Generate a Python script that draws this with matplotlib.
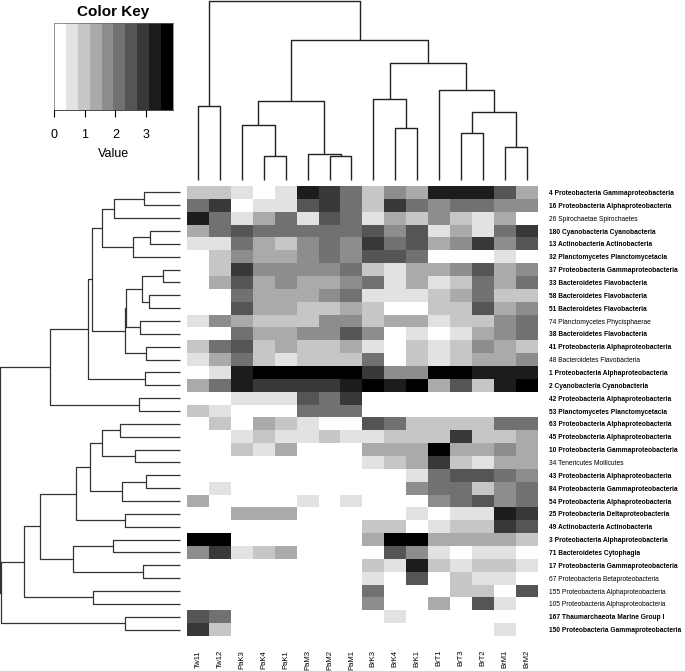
import matplotlib
matplotlib.use("Agg")
import matplotlib.pyplot as plt
import numpy as np
from matplotlib.colors import ListedColormap, BoundaryNorm

plt.rcParams["font.family"] = ["Liberation Sans", "DejaVu Sans"]

# %% Data
samples = ["Tw11", "Tw12", "PaK3", "PaK4", "PaK1", "PaM3", "PaM2", "PaM1",
           "BrK3", "BrK4", "BrK1", "BrT1", "BrT3", "BrT2", "BrM1", "BrM2"]

taxa = [
    "4 Proteobacteria Gammaproteobacteria",
    "16 Proteobacteria Alphaproteobacteria",
    "26 Spirochaetae Spirochaetes",
    "180 Cyanobacteria Cyanobacteria",
    "13 Actinobacteria Actinobacteria",
    "32 Planctomycetes Planctomycetacia",
    "37 Proteobacteria Gammaproteobacteria",
    "33 Bacteroidetes Flavobacteria",
    "58 Bacteroidetes Flavobacteria",
    "51 Bacteroidetes Flavobacteria",
    "74 Planctomycetes Phycisphaerae",
    "38 Bacteroidetes Flavobacteria",
    "41 Proteobacteria Alphaproteobacteria",
    "48 Bacteroidetes Flavobacteria",
    "1 Proteobacteria Alphaproteobacteria",
    "2 Cyanobacteria Cyanobacteria",
    "42 Proteobacteria Alphaproteobacteria",
    "53 Planctomycetes Planctomycetacia",
    "63 Proteobacteria Alphaproteobacteria",
    "45 Proteobacteria Alphaproteobacteria",
    "10 Proteobacteria Gammaproteobacteria",
    "34 Tenericutes Mollicutes",
    "43 Proteobacteria Alphaproteobacteria",
    "84 Proteobacteria Gammaproteobacteria",
    "54 Proteobacteria Alphaproteobacteria",
    "25 Proteobacteria Deltaproteobacteria",
    "49 Actinobacteria Actinobacteria",
    "3 Proteobacteria Alphaproteobacteria",
    "71 Bacteroidetes Cytophagia",
    "17 Proteobacteria Gammaproteobacteria",
    "67 Proteobacteria Betaproteobacteria",
    "155 Proteobacteria Alphaproteobacteria",
    "105 Proteobacteria Alphaproteobacteria",
    "167 Thaumarchaeota Marine Group I",
    "150 Proteobacteria Gammaproteobacteria",
]

# taxa drawn in regular (non-bold) weight
plain_taxa = ["26", "74", "48", "34", "67", "155", "105"]

values = np.array([
    [1.0, 1.0, 0.6, 0.0, 0.6, 3.3, 2.9, 2.1, 1.0, 1.8, 1.4, 3.3, 3.3, 3.3, 2.5, 1.4],
    [2.1, 2.9, 0.0, 0.6, 0.6, 2.5, 2.9, 2.1, 1.0, 2.9, 2.1, 1.8, 2.1, 2.1, 1.8, 1.8],
    [3.3, 2.1, 0.6, 1.4, 2.1, 0.6, 2.5, 2.1, 0.6, 1.4, 1.0, 1.8, 1.0, 0.6, 1.4, 0.0],
    [1.4, 2.1, 2.5, 2.1, 2.1, 2.1, 2.1, 2.1, 2.5, 1.8, 2.5, 0.6, 1.4, 0.6, 2.1, 2.9],
    [0.6, 0.6, 2.1, 1.4, 1.0, 1.8, 2.1, 1.8, 2.9, 2.1, 2.5, 1.4, 1.8, 2.9, 1.8, 2.5],
    [0.0, 1.0, 1.8, 1.4, 1.4, 1.8, 2.1, 1.8, 2.5, 2.5, 2.1, 0.0, 0.0, 0.0, 0.6, 0.0],
    [0.0, 1.0, 2.9, 1.8, 1.8, 1.8, 1.8, 2.1, 1.0, 0.6, 1.4, 1.4, 1.8, 2.5, 1.4, 1.8],
    [0.0, 1.4, 2.5, 1.4, 1.8, 1.4, 1.4, 1.8, 2.1, 0.6, 1.4, 0.6, 1.0, 2.1, 1.4, 2.1],
    [0.0, 0.0, 2.1, 1.4, 1.4, 1.4, 1.8, 2.1, 0.6, 0.6, 0.6, 1.0, 1.4, 2.1, 1.0, 1.0],
    [0.0, 0.0, 2.5, 1.4, 1.4, 1.0, 1.0, 1.4, 1.0, 0.0, 0.0, 1.0, 1.0, 2.5, 1.4, 1.8],
    [0.6, 1.8, 1.4, 1.0, 1.0, 1.0, 1.8, 1.8, 1.0, 1.4, 1.4, 0.6, 1.0, 1.0, 1.8, 2.1],
    [0.0, 0.0, 2.1, 1.4, 1.4, 1.8, 1.8, 2.5, 1.8, 0.0, 0.6, 0.0, 0.6, 1.4, 1.8, 2.1],
    [1.0, 2.1, 2.5, 1.0, 1.4, 1.0, 1.0, 1.4, 0.6, 0.0, 1.0, 0.6, 1.0, 1.8, 1.4, 1.0],
    [0.6, 1.4, 2.1, 1.0, 0.6, 1.0, 1.0, 1.0, 2.1, 0.0, 1.0, 0.6, 1.0, 1.4, 1.4, 1.8],
    [0.0, 0.6, 3.3, 3.7, 3.7, 3.7, 3.7, 3.7, 2.9, 1.8, 1.8, 3.7, 3.7, 3.3, 3.3, 3.3],
    [1.4, 2.1, 3.3, 2.9, 2.9, 2.9, 2.9, 3.3, 3.7, 3.3, 3.7, 1.4, 2.5, 1.0, 3.3, 3.7],
    [0.0, 0.0, 0.6, 0.6, 0.6, 2.5, 2.1, 2.9, 0.0, 0.0, 0.0, 0.0, 0.0, 0.0, 0.0, 0.0],
    [1.0, 0.6, 0.0, 0.0, 0.0, 2.1, 2.1, 2.1, 0.0, 0.0, 0.0, 0.0, 0.0, 0.0, 0.0, 0.0],
    [0.0, 1.0, 0.0, 1.4, 1.0, 0.6, 0.0, 0.0, 2.5, 2.1, 1.0, 1.0, 1.0, 1.0, 2.1, 2.1],
    [0.0, 0.0, 0.6, 1.0, 0.6, 0.6, 1.0, 0.6, 0.6, 1.0, 1.0, 1.0, 2.9, 1.0, 1.0, 1.4],
    [0.0, 0.0, 1.0, 0.6, 1.4, 0.0, 0.0, 0.0, 1.4, 1.4, 1.4, 3.7, 1.4, 1.4, 1.8, 1.4],
    [0.0, 0.0, 0.0, 0.0, 0.0, 0.0, 0.0, 0.0, 0.6, 1.0, 1.4, 2.9, 1.0, 0.6, 1.4, 1.4],
    [0.0, 0.0, 0.0, 0.0, 0.0, 0.0, 0.0, 0.0, 0.0, 0.0, 0.6, 2.1, 2.5, 2.5, 2.1, 1.8],
    [0.0, 0.6, 0.0, 0.0, 0.0, 0.0, 0.0, 0.0, 0.0, 0.0, 1.8, 2.1, 2.1, 1.0, 1.8, 2.1],
    [1.4, 0.0, 0.0, 0.0, 0.0, 0.6, 0.0, 0.6, 0.0, 0.0, 0.0, 1.8, 2.1, 2.5, 1.8, 2.1],
    [0.0, 0.0, 1.4, 1.4, 1.4, 0.0, 0.0, 0.0, 0.0, 0.0, 0.6, 0.0, 0.6, 0.6, 3.3, 2.9],
    [0.0, 0.0, 0.0, 0.0, 0.0, 0.0, 0.0, 0.0, 1.0, 1.0, 0.0, 0.6, 1.0, 1.0, 2.9, 2.5],
    [3.7, 3.7, 0.0, 0.0, 0.0, 0.0, 0.0, 0.0, 1.4, 3.7, 3.7, 1.4, 1.4, 1.4, 1.4, 1.0],
    [1.8, 2.9, 0.6, 1.0, 1.4, 0.0, 0.0, 0.0, 0.0, 2.5, 1.8, 0.6, 0.0, 0.6, 0.6, 0.0],
    [0.0, 0.0, 0.0, 0.0, 0.0, 0.0, 0.0, 0.0, 1.0, 0.6, 3.3, 1.0, 0.6, 1.0, 1.0, 0.6],
    [0.0, 0.0, 0.0, 0.0, 0.0, 0.0, 0.0, 0.0, 0.6, 0.0, 2.5, 0.0, 1.0, 0.6, 0.6, 0.0],
    [0.0, 0.0, 0.0, 0.0, 0.0, 0.0, 0.0, 0.0, 2.1, 0.0, 0.0, 0.0, 1.0, 1.0, 0.0, 2.5],
    [0.0, 0.0, 0.0, 0.0, 0.0, 0.0, 0.0, 0.0, 1.8, 0.0, 0.0, 1.4, 0.0, 2.5, 0.6, 0.0],
    [2.5, 2.1, 0.0, 0.0, 0.0, 0.0, 0.0, 0.0, 0.0, 0.6, 0.0, 0.0, 0.0, 0.0, 0.0, 0.0],
    [2.9, 1.0, 0.0, 0.0, 0.0, 0.0, 0.0, 0.0, 0.0, 0.0, 0.0, 0.0, 0.0, 0.0, 0.6, 0.0],
])

# dendrogram merges (left id, right id, height); ids >= n are earlier merges
col_merges = [
    (0, 1, 74.3), (3, 4, 23.7), (2, 17, 55.3), (6, 7, 23.7), (5, 19, 25.7),
    (18, 20, 79.0), (9, 10, 52.0), (8, 22, 81.0), (12, 13, 47.3), (14, 15, 33.0),
    (24, 25, 67.7), (11, 26, 89.7), (23, 27, 117.0), (21, 28, 140.3), (16, 29, 179.3),
]
row_merges = [
    (0, 1, 35.7), (35, 2, 66.3), (3, 4, 30.3), (37, 5, 47.0), (36, 38, 77.7),
    (6, 7, 17.3), (8, 9, 31.3), (40, 41, 37.7), (10, 11, 40.3), (42, 43, 53.7),
    (12, 13, 34.3), (44, 45, 54.7), (39, 46, 88.3), (14, 15, 35.3), (47, 48, 91.7),
    (16, 17, 41.3), (49, 50, 130.0), (18, 19, 59.7), (20, 21, 45.3), (52, 53, 78.3),
    (22, 23, 33.7), (55, 24, 58.3), (54, 56, 90.0), (25, 26, 54.7), (57, 58, 104.0),
    (27, 28, 67.3), (29, 30, 36.7), (60, 61, 107.3), (59, 62, 140.0), (31, 32, 86.7),
    (63, 64, 156.0), (33, 34, 54.7), (65, 66, 179.0), (51, 67, 179.7),
]

# %% Style
GRAYS = ["#FFFFFF", "#E2E2E2", "#C6C6C6", "#AAAAAA", "#8D8D8D",
         "#717171", "#555555", "#383838", "#1C1C1C", "#000000"]
KEY_MAX = 3.88
LINE_COLOR = "#222222"
W, H = 685, 671

cmap = ListedColormap(GRAYS)
breaks = np.linspace(0, KEY_MAX, len(GRAYS) + 1)
norm = BoundaryNorm(breaks, cmap.N)


def px_axes(fig, x0, y0, x1, y1):
    return fig.add_axes([x0 / W, 1 - y1 / H, (x1 - x0) / W, (y1 - y0) / H])


def dendro_segments(merges, n):
    pos = {i: float(i) for i in range(n)}
    hgt = {i: 0.0 for i in range(n)}
    segs = []
    for k, (a, b, h) in enumerate(merges):
        segs.append(([pos[a], pos[a], pos[b], pos[b]], [hgt[a], h, h, hgt[b]]))
        pos[n + k] = (pos[a] + pos[b]) / 2
        hgt[n + k] = h
    return segs


fig = plt.figure(figsize=(W / 100, H / 100), dpi=100)

# heatmap
HX0, HX1, HY0, HY1 = 187.2, 537.6, 186.0, 636.0
ax = px_axes(fig, HX0, HY0, HX1, HY1)
ax.imshow(values, cmap=cmap, norm=norm, aspect="auto", interpolation="nearest")
for s in ax.spines.values():
    s.set_visible(False)
ax.set_xticks(np.arange(len(samples)))
ax.set_xticklabels(samples, rotation=90, fontsize=5.5)
ax.set_yticks(np.arange(len(taxa)))
ax.yaxis.tick_right()
ax.set_yticklabels(taxa, fontsize=4.8)
for lbl in ax.get_yticklabels():
    if lbl.get_text().split()[0] not in plain_taxa:
        lbl.set_fontweight("bold")
ax.tick_params(axis="x", length=0, pad=10)
ax.tick_params(axis="y", length=0, pad=8)

# column dendrogram
axc = px_axes(fig, HX0, 0, HX1, 180)
for xs, ys in dendro_segments(col_merges, len(samples)):
    axc.plot(xs, ys, color=LINE_COLOR, lw=1.0, clip_on=False, solid_capstyle="butt")
axc.set_xlim(-0.5, len(samples) - 0.5)
axc.set_ylim(0, 180)
axc.axis("off")

# row dendrogram
axr = px_axes(fig, 0, HY0, 180, HY1)
for xs, ys in dendro_segments(row_merges, len(taxa)):
    axr.plot(ys, xs, color="#333333", lw=0.9, clip_on=False, solid_capstyle="butt")
axr.set_ylim(len(taxa) - 0.5, -0.5)
axr.set_xlim(180, 0)
axr.axis("off")

# color key
axk = px_axes(fig, 54.3, 23.3, 172.7, 110.0)
axk.imshow(((breaks[:-1] + breaks[1:]) / 2)[None, :], cmap=cmap, norm=norm,
           aspect="auto", extent=(0, KEY_MAX, 0, 1))
axk.set_xlim(0, KEY_MAX)
axk.set_yticks([])
axk.set_xticks([0, 1, 2, 3])
axk.tick_params(axis="x", length=5, width=0.8, labelsize=9, pad=9)
for s in axk.spines.values():
    s.set_linewidth(0.5)
    s.set_color("#666666")
axk.spines["bottom"].set_color("black")
axk.set_xlabel("Value", fontsize=9, labelpad=5)
axk.set_title("Color Key", fontsize=11, fontweight="bold", pad=5)

fig.savefig("out.png", dpi=100)
